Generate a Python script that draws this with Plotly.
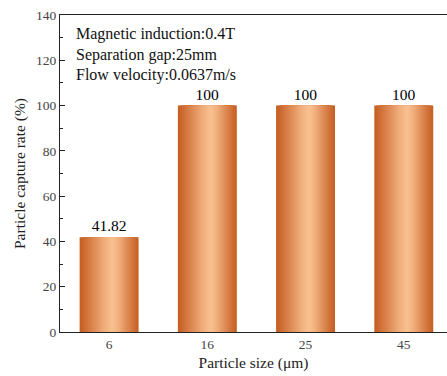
import plotly.graph_objects as go
import numpy as np

categories = ["6", "16", "25", "45"]
capture_rate = [41.82, 100, 100, 100]
bar_labels = ["41.82", "100", "100", "100"]
y_ticks = [0, 20, 40, 60, 80, 100, 120, 140]

FONT = "Liberation Serif, Times New Roman, serif"
BAR_W = 0.6

dark = np.array([198, 96, 36])
mid = np.array([222, 138, 84])
light = np.array([250, 194, 146])
peak = 0.56

def color_at(t):
    if t <= peak:
        d = (peak - t) / peak
    else:
        d = (t - peak) / (1 - peak)
    if d > 0.6:
        c = mid + (dark - mid) * (d - 0.6) / 0.4
    else:
        c = light + (mid - light) * (d / 0.6) ** 1.3
    return "rgb(%d,%d,%d)" % tuple(np.clip(c, 0, 255).astype(int))

fig = go.Figure()
N = 16
for k in range(N):
    f = k / N
    a = peak * f
    b = 1 - (1 - peak) * f
    fig.add_trace(go.Bar(
        x=categories, y=capture_rate,
        width=(b - a) * BAR_W,
        offset=-BAR_W / 2 + a * BAR_W,
        marker=dict(color=color_at(a), line=dict(width=0)),
        text=bar_labels if k == 0 else None,
        textposition="outside" if k == 0 else "none",
        textfont=dict(family=FONT, size=15.5, color="black"),
        cliponaxis=False,
        hoverinfo="skip",
        showlegend=False,
    ))

fig.update_layout(
    barmode="overlay",
    width=447, height=376,
    margin=dict(l=60, r=0, t=15, b=44),
    plot_bgcolor="white", paper_bgcolor="white",
    font=dict(family=FONT, size=13, color="#333"),
    xaxis=dict(
        type="category", range=[-0.5, 3.44],
        showline=True, linecolor="#222", linewidth=1.2, mirror=True,
        ticks="", showgrid=False,
        tickfont=dict(family=FONT, size=13.5, color="#444"),
        title=dict(text="Particle size (μm)", font=dict(family=FONT, size=15.5, color="#222"), standoff=5),
    ),
    yaxis=dict(
        range=[0, 140], tickvals=y_ticks,
        showline=True, linecolor="#222", linewidth=1.2,
        ticks="inside", ticklen=5, tickcolor="#222",
        minor=dict(dtick=10, ticks="inside", ticklen=3, tickcolor="#222"),
        showgrid=False, zeroline=False,
        tickfont=dict(family=FONT, size=13.5, color="#444"),
        title=dict(text="Particle capture rate (%)", font=dict(family=FONT, size=15.5, color="#222"), standoff=6),
    ),
)

notes = ["Magnetic induction:0.4T", "Separation gap:25mm", "Flow velocity:0.0637m/s"]
plot_h = 376 - 15 - 44
for i, t in enumerate(notes):
    ypix = 34 + 20.5 * i
    fig.add_annotation(
        x=(74 - 60) / (447 - 60), xref="paper",
        y=1 - (ypix - 15) / plot_h, yref="paper",
        text=t, showarrow=False, xanchor="left", yanchor="middle",
        font=dict(family=FONT, size=16, color="#111"),
    )

fig.write_html("out.html")
